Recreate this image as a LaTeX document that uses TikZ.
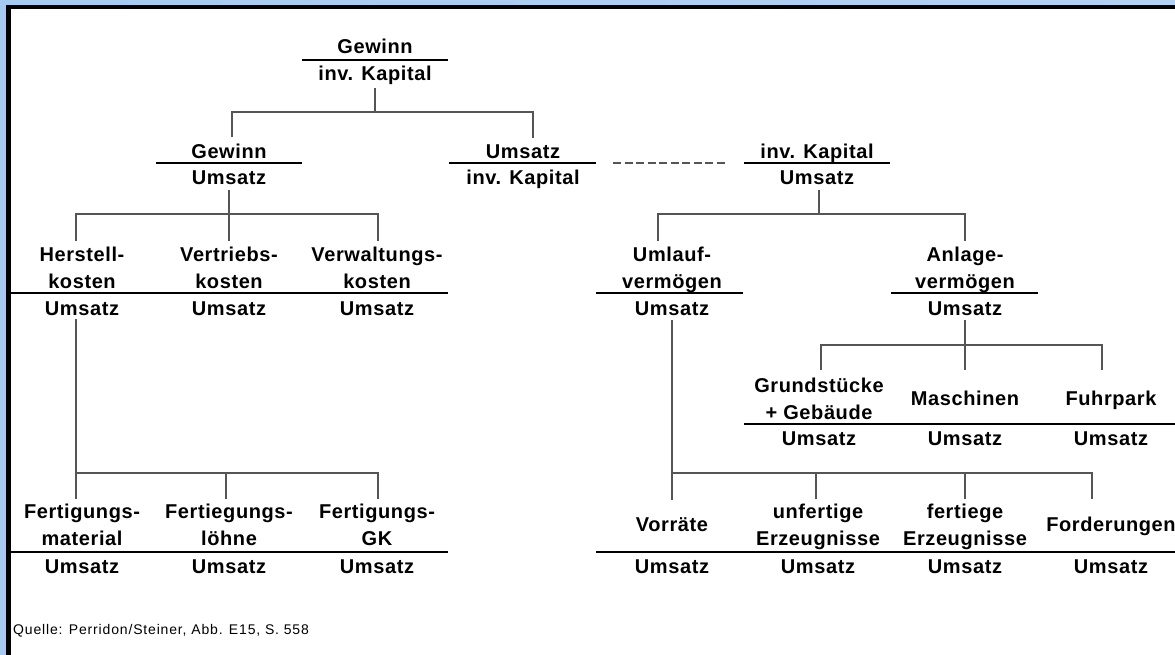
\documentclass[tikz,border=0pt]{standalone}
\usepackage{fontspec}
\setmainfont{Liberation Sans}
\newfontfamily\lblfont{Liberation Sans}[LetterSpace=3]
\newfontfamily\srcfont{Liberation Sans}[LetterSpace=6]
\definecolor{frameblue}{RGB}{166,202,240}
\definecolor{frametopmid}{RGB}{236,243,252}
\definecolor{conngray}{RGB}{85,85,85}
\begin{document}
\begin{tikzpicture}[x=1pt,y=-1pt,
  lbl/.style={font=\lblfont\bfseries\fontsize{20}{27}\selectfont, align=center, inner sep=0pt, anchor=base},
  src/.style={font=\srcfont\fontsize{14}{16}\selectfont, inner sep=0pt, anchor=base west},
  rulel/.style={line width=2pt, black},
  conn/.style={line width=1.8pt, color=conngray},
  dashline/.style={line width=1.8pt, color=conngray, dash pattern=on 8pt off 3.5pt}]
\useasboundingbox (0,0) rectangle (1175,655);
% frame
\fill[white] (0,0) rectangle (1175,655);
\shade[left color=frameblue, middle color=frametopmid, right color=frameblue!85!white] (0,0) rectangle (1175,5.5);
\fill[frameblue] (0,0) rectangle (6,655);
\fill[black] (6,5.5) rectangle (10.5,655);
\fill[black] (6,5.5) rectangle (1175,9.5);

% level 1
\node[lbl] (topN) at (375,54) {Gewinn};
\node[lbl] (topD) at (375,81) {inv. Kapital};
\draw[rulel] (302,60) -- (448,60);

% level 2
\node[lbl] (g2N) at (229,159) {Gewinn};
\node[lbl] (g2D) at (229,185) {Umsatz};
\draw[rulel] (156,163) -- (302,163);

\node[lbl] (u2N) at (523,159) {Umsatz};
\node[lbl] (u2D) at (523,185) {inv. Kapital};
\draw[rulel] (449,163) -- (596,163);

\draw[dashline] (613,163) -- (727,163);

\node[lbl] (i2N) at (817,159) {inv. Kapital};
\node[lbl] (i2D) at (817,185) {Umsatz};
\draw[rulel] (744,163) -- (890,163);

% level 3 left (anchor base = last line)
\node[lbl] (herN) at (82,288) {Herstell-\\kosten};
\node[lbl] (vertN) at (229,288) {Vertriebs-\\kosten};
\node[lbl] (verwN) at (377,288) {Verwaltungs-\\kosten};
\draw[rulel] (10,293) -- (448,293);
\node[lbl] (herD) at (82,315) {Umsatz};
\node[lbl] (vertD) at (229,315) {Umsatz};
\node[lbl] (verwD) at (377,315) {Umsatz};

% level 3 right
\node[lbl] (umlN) at (672,288) {Umlauf-\\vermögen};
\draw[rulel] (596,293) -- (743,293);
\node[lbl] (umlD) at (672,315) {Umsatz};
\node[lbl] (anlN) at (965,288) {Anlage-\\vermögen};
\draw[rulel] (891,293) -- (1038,293);
\node[lbl] (anlD) at (965,315) {Umsatz};

% Anlagevermoegen children
\node[lbl] (grN) at (819,419) {Grundstücke\\+ Gebäude};
\node[lbl] (maN) at (965,405) {Maschinen};
\node[lbl] (fuN) at (1111,405) {Fuhrpark};
\draw[rulel] (744,424) -- (1175,424);
\node[lbl] (grD) at (819,445) {Umsatz};
\node[lbl] (maD) at (965,445) {Umsatz};
\node[lbl] (fuD) at (1111,445) {Umsatz};

% level 5 left
\node[lbl] (fmN) at (82,545) {Fertigungs-\\material};
\node[lbl] (flN) at (229,545) {Fertiegungs-\\löhne};
\node[lbl] (fgN) at (377,545) {Fertigungs-\\GK};
\draw[rulel] (10,552) -- (448,552);
\node[lbl] (fmD) at (82,573) {Umsatz};
\node[lbl] (flD) at (229,573) {Umsatz};
\node[lbl] (fgD) at (377,573) {Umsatz};

% level 5 right
\node[lbl] (voN) at (672,531) {Vorräte};
\node[lbl] (unN) at (818,545) {unfertige\\Erzeugnisse};
\node[lbl] (feN) at (965,545) {fertiege\\Erzeugnisse};
\node[lbl] (foN) at (1111,531) {Forderungen};
\draw[rulel] (596,552) -- (1175,552);
\node[lbl] (voD) at (672,573) {Umsatz};
\node[lbl] (unD) at (818,573) {Umsatz};
\node[lbl] (feD) at (965,573) {Umsatz};
\node[lbl] (foD) at (1111,573) {Umsatz};

\node[src] (quelle) at (13,634) {Quelle: Perridon/Steiner, Abb. E15, S. 558};

% bus coordinates
\coordinate (bus1) at (377,112);
\coordinate (bus2) at (230,214);
\coordinate (bus3) at (819,214);
\coordinate (bus4) at (76,473);
\coordinate (bus5) at (965,345);
\coordinate (bus6) at (673,473);

% connectors
\draw[conn] ([yshift=-3pt]topD.south) -- (topD.south |- bus1);
\draw[conn] ([xshift=3pt,yshift=7pt]g2N.north) |- (bus1) -| ([xshift=10pt,yshift=7pt]u2N.north);

\draw[conn] ([yshift=-5pt]g2D.south) -- (g2D.south |- bus2);
\draw[conn] ([xshift=-6pt,yshift=5pt]herN.north) |- (bus2) -| ([xshift=1pt,yshift=5pt]verwN.north);
\draw[conn] ([yshift=5pt]vertN.north) -- (vertN.north |- bus2);

\draw[conn] ([xshift=2pt,yshift=-5pt]i2D.south) -- ([xshift=2pt]i2D.south |- bus3);
\draw[conn] ([xshift=-14pt,yshift=5pt]umlN.north) |- (bus3) -| ([yshift=5pt]anlN.north);

\draw[conn] ([xshift=-6pt,yshift=-4pt]herD.south) -- ([xshift=-6pt,yshift=4pt]fmN.north);
\draw[conn] (bus4) -| ([xshift=1pt,yshift=4pt]fgN.north);
\draw[conn] ([xshift=-3pt,yshift=4pt]flN.north) -- ([xshift=-3pt]flN.north |- bus4);

\draw[conn] ([yshift=-5pt]anlD.south) -- ([yshift=20pt]maN.north);
\draw[conn] ([xshift=2pt,yshift=7pt]grN.north) |- (bus5) -| ([xshift=-9pt,yshift=20pt]fuN.north);

\draw[conn] ([yshift=-5pt]umlD.south) -- ([yshift=17pt]voN.north);
\draw[conn] (bus6) -| ([xshift=-19pt,yshift=17pt]foN.north);
\draw[conn] ([xshift=-2pt,yshift=4pt]unN.north) -- ([xshift=-2pt]unN.north |- bus6);
\draw[conn] ([yshift=4pt]feN.north) -- (feN.north |- bus6);
\end{tikzpicture}
\end{document}
